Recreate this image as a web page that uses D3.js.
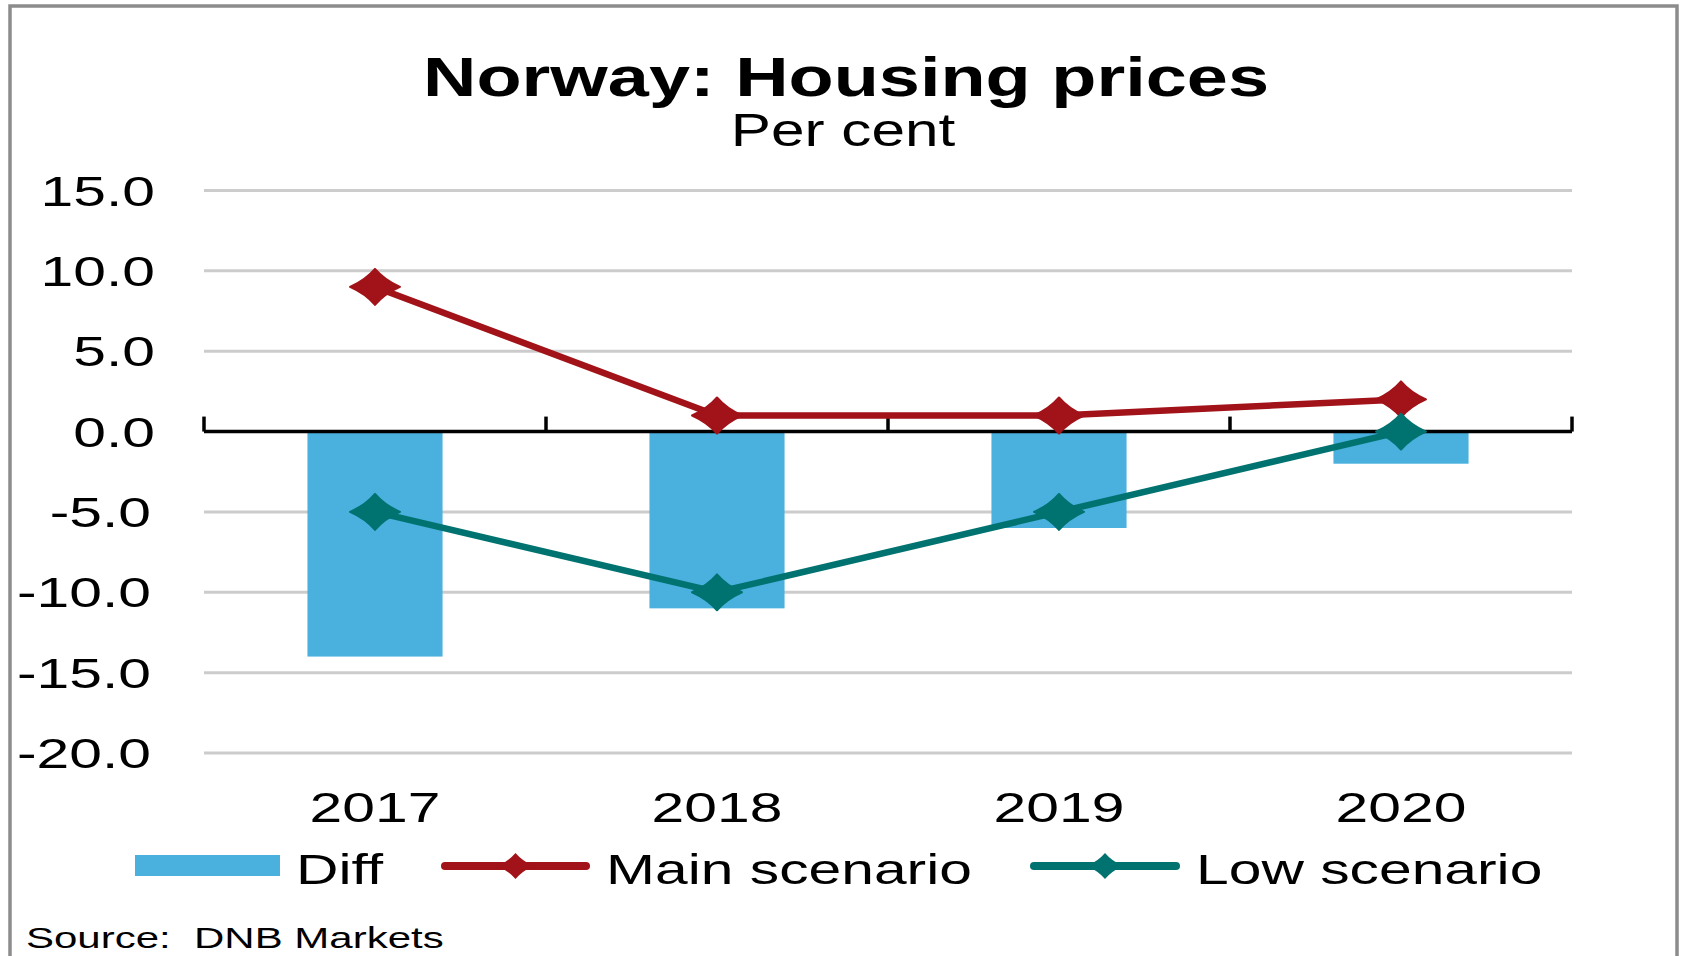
<!DOCTYPE html>
<html>
<head>
<meta charset="utf-8">
<script src="https://cdn.jsdelivr.net/npm/d3@7/dist/d3.min.js"></script>
<style>
  body { margin: 0; background: #fff; }
  svg text { font-family: "Liberation Sans", Arial, sans-serif; white-space: pre; }
</style>
</head>
<body>
<div id="chart"></div>
<script>
// data
var years = ['2017', '2018', '2019', '2020'];
var diff = [-14, -11, -6, -2];
var mainScenario = [9, 1, 1, 2];
var lowScenario = [-5, -10, -5, 0];
var yTicks = [15, 10, 5, 0, -5, -10, -15, -20];

var W = 1681, H = 956;
var SX = 1.4; // the original text is stretched sideways

var svg = d3.select('#chart').append('svg').attr('width', W).attr('height', H);

// frame
svg.append('rect').attr('x', 10).attr('y', 6).attr('width', 1667).attr('height', 1000)
    .attr('fill', 'none').attr('stroke', '#8c8c8c').attr('stroke-width', 3.5);

var x = d3.scaleBand().domain(years).range([204, 1572]);
var xBar = d3.scaleBand().domain(years).range([204, 1572]).paddingInner(0.605).paddingOuter(0.3025);
var y = d3.scaleLinear().domain([-20, 15]).range([753, 190.5]);

function stretchText(g, tx, ty, str, size, anchor, sx, weight) {
    return g.append('text')
        .attr('transform', 'translate(' + tx + ',' + ty + ') scale(' + sx + ',1)')
        .attr('text-anchor', anchor)
        .attr('font-size', size)
        .attr('font-weight', weight || 'normal')
        .attr('fill', '#000')
        .text(str);
}

// titles
stretchText(svg, 846, 96, 'Norway: Housing prices', 56, 'middle', 1.32, 'bold');
stretchText(svg, 843, 146, 'Per cent', 46, 'middle', 1.31);

// gridlines
svg.append('g').selectAll('line').data(yTicks.filter(function (d) { return d !== 0; })).enter()
    .append('line')
    .attr('x1', 204).attr('x2', 1572)
    .attr('y1', function (d) { return y(d); }).attr('y2', function (d) { return y(d); })
    .attr('stroke', '#cccccc').attr('stroke-width', 3);

// y labels (plain hyphen as minus, like the original)
var yl = svg.append('g');
yTicks.forEach(function (t) {
    stretchText(yl, t < 0 ? 151 : 155, y(t) + 15, t.toFixed(1), 42, 'end', SX);
});

// bars
svg.append('g').selectAll('rect').data(years).enter().append('rect')
    .attr('x', function (d) { return xBar(d); })
    .attr('width', xBar.bandwidth())
    .attr('y', y(0))
    .attr('height', function (d, i) { return y(diff[i]) - y(0); })
    .attr('fill', '#4ab0de');

// zero axis with inward ticks at band edges
var ax = svg.append('g').attr('stroke', '#000').attr('stroke-width', 3.5);
ax.append('line').attr('x1', 204).attr('x2', 1572).attr('y1', y(0)).attr('y2', y(0));
years.concat(['end']).forEach(function (d, i) {
    var xx = i < years.length ? x(d) : x.range()[1];
    ax.append('line').attr('x1', xx).attr('x2', xx).attr('y1', y(0)).attr('y2', y(0) - 15);
});

// x labels
var xl = svg.append('g');
years.forEach(function (d) {
    stretchText(xl, x(d) + x.bandwidth() / 2, 822, d, 42, 'middle', SX);
});

// diamond with slightly pinched sides
function diamond(hw, hh) {
    var k = 0.38;
    return 'M0,' + (-hh) +
        'Q' + (hw * k) + ',' + (-hh * k) + ' ' + hw + ',0' +
        'Q' + (hw * k) + ',' + (hh * k) + ' 0,' + hh +
        'Q' + (-hw * k) + ',' + (hh * k) + ' ' + (-hw) + ',0' +
        'Q' + (-hw * k) + ',' + (-hh * k) + ' 0,' + (-hh) + 'Z';
}

function series(vals, color) {
    var pts = years.map(function (d, i) { return [x(d) + x.bandwidth() / 2, y(vals[i])]; });
    var g = svg.append('g');
    g.append('path').attr('d', d3.line()(pts))
        .attr('fill', 'none').attr('stroke', color).attr('stroke-width', 6.5);
    g.selectAll('path.m').data(pts).enter().append('path').attr('class', 'm')
        .attr('transform', function (p) { return 'translate(' + p[0] + ',' + p[1] + ')'; })
        .attr('d', diamond(25, 18))
        .attr('fill', color).attr('stroke', color).attr('stroke-width', 2).attr('stroke-linejoin', 'round');
}

series(mainScenario, '#a11219');
series(lowScenario, '#007370');

// legend
var lg = svg.append('g');
lg.append('rect').attr('x', 135).attr('y', 855).attr('width', 145).attr('height', 21).attr('fill', '#4ab0de');
stretchText(lg, 296, 884, 'Diff', 42, 'start', SX);

function legendLine(x0, x1, color, label, tx) {
    lg.append('line').attr('x1', x0).attr('x2', x1).attr('y1', 866).attr('y2', 866)
        .attr('stroke', color).attr('stroke-width', 8).attr('stroke-linecap', 'round');
    lg.append('path').attr('transform', 'translate(' + ((x0 + x1) / 2) + ',866)')
        .attr('d', diamond(18, 13)).attr('fill', color);
    stretchText(lg, tx, 884, label, 42, 'start', SX);
}
legendLine(445, 586, '#a11219', 'Main scenario', 606);
legendLine(1034, 1176, '#007370', 'Low scenario', 1196);

// source
stretchText(svg, 26, 948, 'Source:  DNB Markets', 30, 'start', SX);
</script>
</body>
</html>
